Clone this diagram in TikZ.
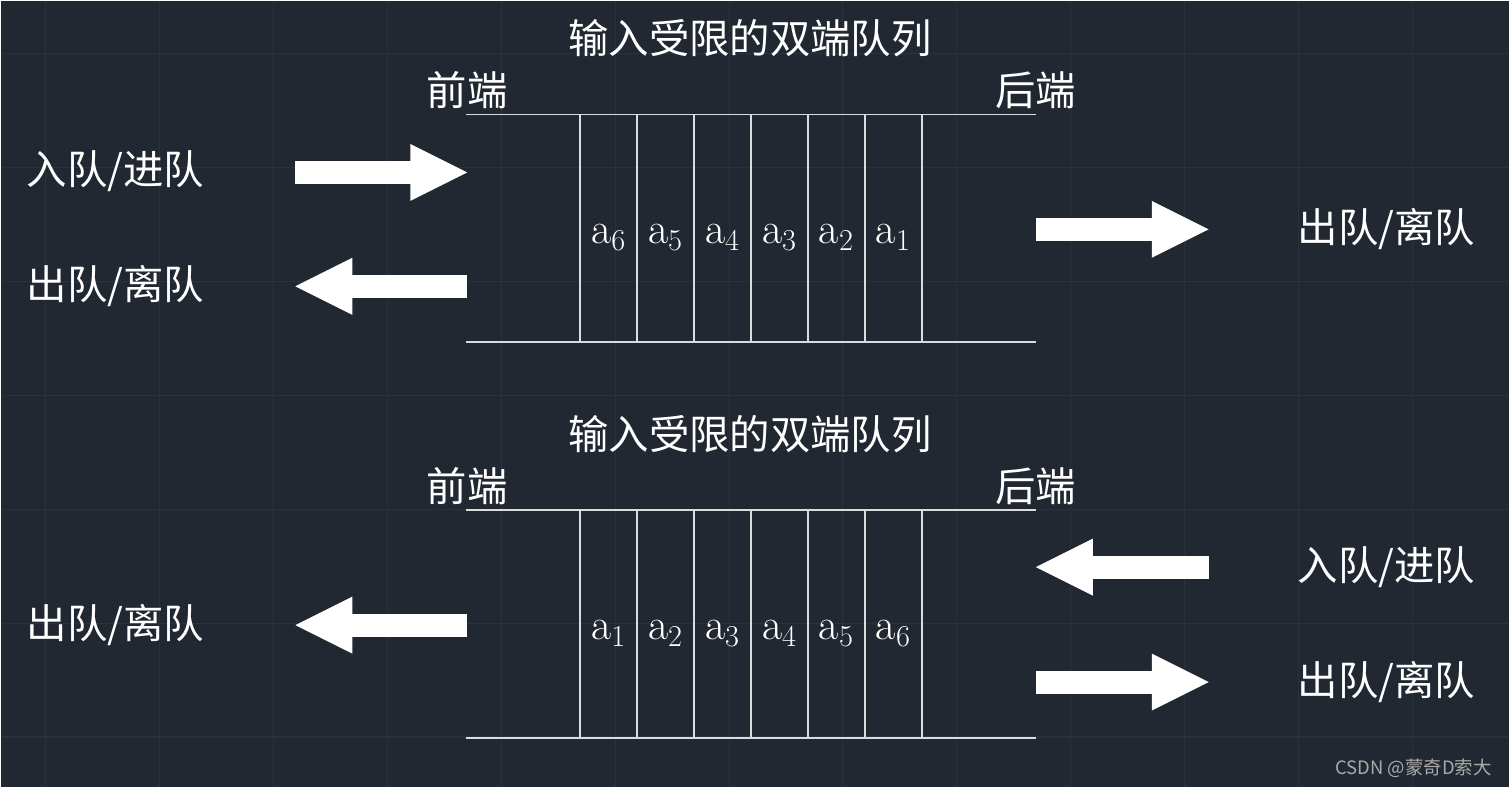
\documentclass[tikz,border=0pt]{standalone}
\usepackage{fontspec}
\newfontfamily\cjk{Noto Sans CJK SC}
\usetikzlibrary{arrows.meta,positioning}
\definecolor{bgcol}{RGB}{34,40,49}
\definecolor{gridcol}{RGB}{43,50,62}
\definecolor{linecol}{RGB}{220,220,220}
\tikzstyle{every node}=[inner sep=0pt,text=white]
\tikzstyle{gridline}=[draw=gridcol,line width=0.6pt]
\tikzstyle{qline}=[draw=linecol,line width=1pt]
\tikzstyle{cell}=[rectangle,
                  draw=linecol,
                  line width=1pt,
                  minimum width=1.14cm,
                  minimum height=4.56cm]
\tikzstyle{elem}=[font=\fontsize{25}{30}\selectfont]
\tikzstyle{cjklabel}=[font=\cjk\fontsize{23}{27}\selectfont]
\tikzstyle{blockarrow}=[draw=white,
                        line width=0.46cm,
                        -{Triangle[length=1.14cm,width=1.14cm,line width=0pt]},
                        postaction={draw=white,-,shorten >=1cm}]

\begin{document}
\begin{tikzpicture}[x=0.02cm,y=-0.02cm]
% background
\fill[bgcol] (0,0) rectangle (1510,787);
\foreach \gx in {45,159,...,1413} \draw[gridline] (\gx,0) -- (\gx,787);
\foreach \gy in {53,167,...,737} \draw[gridline] (0,\gy) -- (1510,\gy);

% upper queue
\node (A-title) [cjklabel] at (750,38) {输入受限的双端队列};
\coordinate (A-tl) at (466,114);
\coordinate (A-tr) at (1036,114);
\coordinate (A-bl) at (466,342);
\coordinate (A-br) at (1036,342);
\draw[qline] (A-tl) -- (A-tr);
\draw[qline] (A-bl) -- (A-br);
\node (A-front) [cjklabel] at (467,90) {前端};
\node (A-rear)  [cjklabel] at (1036,90) {后端};
\foreach \i/\lab in {0/6,1/5,2/4,3/3,4/2,5/1} {
  \node (A-c\lab) [cell] at (608.5+57*\i,228) {};
  \node (A-e\lab) [elem] at ([yshift=-0.18cm]A-c\lab.center) {$\mathrm{a}_{\lab}$};
}
\node (A-in)   [cjklabel] at (115,171) {入队/进队};
\node (A-out)  [cjklabel] at (115,286) {出队/离队};
\node (A-rout) [cjklabel] at (1387,229) {出队/离队};
\coordinate (A-in-s)   at (295,172);
\coordinate (A-in-e)   at (467,172);
\coordinate (A-out-s)  at (467,286);
\coordinate (A-out-e)  at (295,286);
\coordinate (A-rout-s) at (1036,229);
\coordinate (A-rout-e) at (1209,229);
\draw[blockarrow] (A-in-s) -- (A-in-e);
\draw[blockarrow] (A-out-s) -- (A-out-e);
\draw[blockarrow] (A-rout-s) -- (A-rout-e);

% lower queue
\node (B-title) [cjklabel] at (750,434) {输入受限的双端队列};
\coordinate (B-tl) at (466,510);
\coordinate (B-tr) at (1036,510);
\coordinate (B-bl) at (466,738);
\coordinate (B-br) at (1036,738);
\draw[qline] (B-tl) -- (B-tr);
\draw[qline] (B-bl) -- (B-br);
\node (B-front) [cjklabel] at (467,486) {前端};
\node (B-rear)  [cjklabel] at (1036,486) {后端};
\foreach \i/\lab in {0/1,1/2,2/3,3/4,4/5,5/6} {
  \node (B-c\lab) [cell] at (608.5+57*\i,624) {};
  \node (B-e\lab) [elem] at ([yshift=-0.18cm]B-c\lab.center) {$\mathrm{a}_{\lab}$};
}
\node (B-out)  [cjklabel] at (115,625) {出队/离队};
\node (B-rin)  [cjklabel] at (1387,567) {入队/进队};
\node (B-rout) [cjklabel] at (1387,682) {出队/离队};
\coordinate (B-out-s)  at (467,625);
\coordinate (B-out-e)  at (295,625);
\coordinate (B-rin-s)  at (1209,567);
\coordinate (B-rin-e)  at (1036,567);
\coordinate (B-rout-s) at (1036,682);
\coordinate (B-rout-e) at (1209,682);
\draw[blockarrow] (B-out-s) -- (B-out-e);
\draw[blockarrow] (B-rin-s) -- (B-rin-e);
\draw[blockarrow] (B-rout-s) -- (B-rout-e);

% watermark
\node (mark) [font=\cjk\fontsize{10.5}{12}\selectfont,text={rgb,255:red,170;green,170;blue,170}] at (1414,768) {CSDN @蒙奇D索大};
\end{tikzpicture}
\end{document}
